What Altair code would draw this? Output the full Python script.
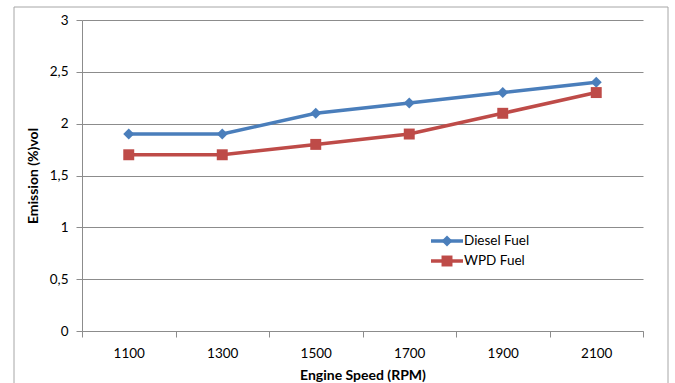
import altair as alt
import pandas as pd

# Engine speed categories and measured emissions for each fuel
speeds = ["1100", "1300", "1500", "1700", "1900", "2100"]
diesel = [1.9, 1.9, 2.1, 2.2, 2.3, 2.4]
wpd = [1.7, 1.7, 1.8, 1.9, 2.1, 2.3]

series_names = ["Diesel Fuel", "WPD Fuel"]
series_colors = ["#4A7EBB", "#BE4B48"]
series_shapes = ["diamond", "square"]
y_ticks = [0, 0.5, 1, 1.5, 2, 2.5, 3]

rows = []
for name, vals in zip(series_names, [diesel, wpd]):
    for s, v in zip(speeds, vals):
        rows.append({"speed": s, "value": v, "fuel": name})
df = pd.DataFrame(rows)
legend_df = pd.DataFrame({"fuel": series_names})

FONT = "Lato"
GRID = "#8c8c8c"

color_scale = alt.Scale(domain=series_names, range=series_colors)
shape_scale = alt.Scale(domain=series_names, range=series_shapes)

x_enc = alt.X(
    "speed:N",
    sort=speeds,
    scale=alt.Scale(type="band", domain=speeds, paddingInner=0, paddingOuter=0),
    axis=alt.Axis(
        title="Engine Speed (RPM)",
        labelAngle=0,
        tickBand="extent",
        grid=False,
        domainColor=GRID,
        tickColor=GRID,
        tickSize=6,
        labelPadding=9,
        labelFontSize=13.5,
        labelColor="#000000",
        titleFontSize=14,
        titleFontWeight="bold",
        titleColor="#000000",
        titlePadding=9,
        labelFont=FONT,
        titleFont=FONT,
    ),
)
y_enc = alt.Y(
    "value:Q",
    scale=alt.Scale(domain=[0, 3], nice=False, zero=True),
    axis=alt.Axis(
        title="Emission (%)vol",
        values=y_ticks,
        format="~g",
        labelExpr="replace(datum.label, '.', ',')",
        grid=True,
        gridColor=GRID,
        domainColor=GRID,
        tickColor=GRID,
        tickSize=6,
        labelPadding=8,
        labelFontSize=13.5,
        labelColor="#000000",
        titleFontSize=14,
        titleFontWeight="bold",
        titleColor="#000000",
        titlePadding=9,
        labelFont=FONT,
        titleFont=FONT,
    ),
)

lines = alt.Chart(df).mark_line(strokeWidth=3.5).encode(
    x=x_enc,
    y=y_enc,
    color=alt.Color("fuel:N", scale=color_scale, legend=None),
    detail="fuel:N",
)
points = alt.Chart(df).mark_point(filled=True, opacity=1).encode(
    x=alt.X("speed:N", sort=speeds),
    y="value:Q",
    color=alt.Color("fuel:N", scale=color_scale, legend=None),
    shape=alt.Shape("fuel:N", scale=shape_scale, legend=None),
    size=alt.value(120),
)

# Inset legend: short line + marker + label for each series
leg_y = alt.Y(
    "fuel:N",
    scale=alt.Scale(type="point", domain=series_names, range=[221, 241], padding=0),
    axis=None,
)
leg_line = alt.Chart(legend_df).mark_rule(strokeWidth=3.5).encode(
    x=alt.value(349), x2=alt.value(381), y=leg_y,
    color=alt.Color("fuel:N", scale=color_scale, legend=None),
)
leg_pt = alt.Chart(legend_df).mark_point(filled=True, opacity=1).encode(
    x=alt.value(365), y=leg_y,
    color=alt.Color("fuel:N", scale=color_scale, legend=None),
    shape=alt.Shape("fuel:N", scale=shape_scale, legend=None),
    size=alt.value(120),
)
leg_txt = alt.Chart(legend_df).mark_text(
    align="left", baseline="middle", font=FONT, fontSize=13.5, color="#000000"
).encode(x=alt.value(382), y=leg_y, text="fuel:N")

# Outer chart frame
frame = alt.Chart(pd.DataFrame({"f": [0]})).mark_rect(
    fill="transparent", stroke="#a6a6a6", strokeWidth=1, clip=False
).encode(x=alt.value(-68), x2=alt.value(586), y=alt.value(-13), y2=alt.value(380))

main = alt.layer(lines, points)
legend_layer = alt.layer(leg_line, leg_pt, leg_txt)

chart = (
    alt.layer(frame, main, legend_layer)
    .resolve_scale(y="independent")
    .properties(
        width=561,
        height=311,
        autosize=alt.AutoSizeParams(type="none"),
        padding={"left": 82, "top": 20, "right": 32, "bottom": 52},
        background="white",
    )
    .configure_view(stroke=None)
)

chart.save("out.html", embed_options={"renderer": "svg", "actions": False})
